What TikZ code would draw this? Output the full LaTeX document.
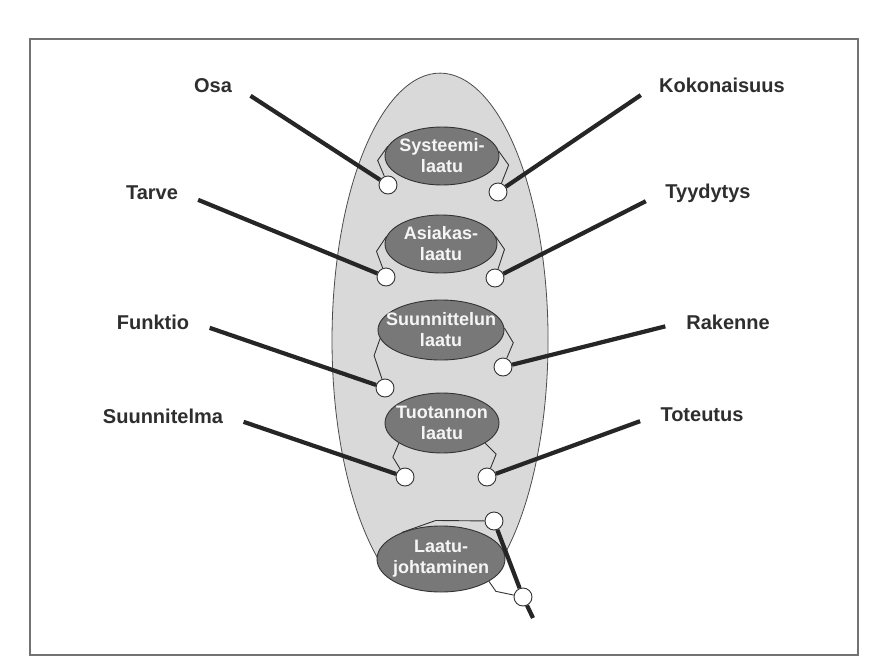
\documentclass[tikz,border=0pt]{standalone}
\usepackage{fontspec}
\setmainfont{Liberation Sans}
\usetikzlibrary{shapes.geometric}

\begin{document}
\begin{tikzpicture}[x=1pt, y=-1pt,
  lbl/.style={font=\fontsize{20}{23}\selectfont\bfseries, text=black!82},
  qual/.style={ellipse, draw=black!80, line width=0.9pt, fill=black!53, inner sep=0pt},
  qualtxt/.style={font=\fontsize{18}{21}\selectfont\bfseries, text=black!4, align=center},
  knob/.style={circle, draw=black!80, fill=white, line width=0.9pt, minimum size=18pt, inner sep=0pt},
  spoke/.style={line width=4.2pt, draw=black!85, shorten <=18pt},
  kink/.style={line width=0.9pt, draw=black!80}]
\useasboundingbox (0,0) rectangle (876,664);
\fill[white] (0,0) rectangle (876,664);
% kehys
\draw[black!55, line width=1.4pt] (30,39) rectangle (858,655);
% iso soikio (alaosa jaa johtamisen taakse)
\draw[black!70, line width=0.8pt, fill=black!15] (491.4,575)
  arc[start angle=61.6, end angle=-241.6, x radius=108, y radius=267] -- cycle;
% laadun tasot
\node[qual, minimum width=114pt, minimum height=58pt] (sys) at (442,156) {};
\node[qualtxt] at (sys) {Systeemi-\\laatu};
\node[qual, minimum width=112pt, minimum height=58pt] (asi) at (441,244) {};
\node[qualtxt] at (asi) {Asiakas-\\laatu};
\node[qual, minimum width=126pt, minimum height=60pt] (suu) at (441,330) {};
\node[qualtxt] at (suu) {Suunnittelun\\laatu};
\node[qual, minimum width=114pt, minimum height=60pt] (tuo) at (442,423) {};
\node[qualtxt] at (tuo) {Tuotannon\\laatu};
\node[qual, minimum width=128pt, minimum height=66pt] (lj) at (441,559) {};
\node[qualtxt] at (lj) {Laatu-\\johtaminen};
% liitospallot
\node[knob] (sysL) at (388,185) {};
\node[knob] (sysR) at (498,192) {};
\node[knob] (asiL) at (386,277) {};
\node[knob] (asiR) at (495,278) {};
\node[knob] (suuL) at (385,388) {};
\node[knob] (suuR) at (503,367) {};
\node[knob] (tuoL) at (405,477) {};
\node[knob] (tuoR) at (487,477) {};
\node[knob] (ljU) at (494,521) {};
\node[knob] (ljL) at (523,597) {};
\coordinate (ljEnd) at (533,618);
% ohuet kytkennat
\draw[kink] (sys.170) -- ++(-10,14) -- (sysL);
\draw[kink] (sys.5) -- ++(10,14) -- (sysR);
\draw[kink] (asi.172) -- ++(-10,15) -- (asiL);
\draw[kink] (asi.8) -- ++(9,13) -- (asiR);
\draw[kink] (suu.188) -- ++(-6,17) -- (suuL);
\draw[kink] (suu.2) -- ++(9,15) -- (suuR);
\draw[kink] (tuo.205) -- ++(-6,14) -- (tuoL);
\draw[kink] (tuo.-25) -- ++(11,11) -- (tuoR);
\draw[kink] (lj.146) -- ++(34,-12) -- (ljU);
\draw[kink] (lj.-25) -- ++(7,10) -- (ljL);
\draw[spoke, shorten <=0pt] (ljU) -- (ljL);
\draw[spoke, shorten <=0pt] (ljL) -- (ljEnd);
% kasitteet
\node[lbl] (osa) at (213,86) {Osa};
\node[lbl] (koko) at (722,85) {Kokonaisuus};
\node[lbl] (tarve) at (152,193) {Tarve};
\node[lbl] (tyyd) at (708,193) {Tyydytys};
\node[lbl] (funk) at (153,322) {Funktio};
\node[lbl] (rak) at (728,322) {Rakenne};
\node[lbl] (suun) at (163,416) {Suunnitelma};
\node[lbl] (tot) at (702,415) {Toteutus};
\draw[spoke] (osa.east) -- (sysL);
\draw[spoke] (koko.west) -- (sysR);
\draw[spoke] (tarve.east) -- (asiL);
\draw[spoke] (tyyd.west) -- (asiR);
\draw[spoke] (funk.east) -- (suuL);
\draw[spoke] (rak.west) -- (suuR);
\draw[spoke] (suun.east) -- (tuoL);
\draw[spoke] (tot.west) -- (tuoR);
\end{tikzpicture}
\end{document}
